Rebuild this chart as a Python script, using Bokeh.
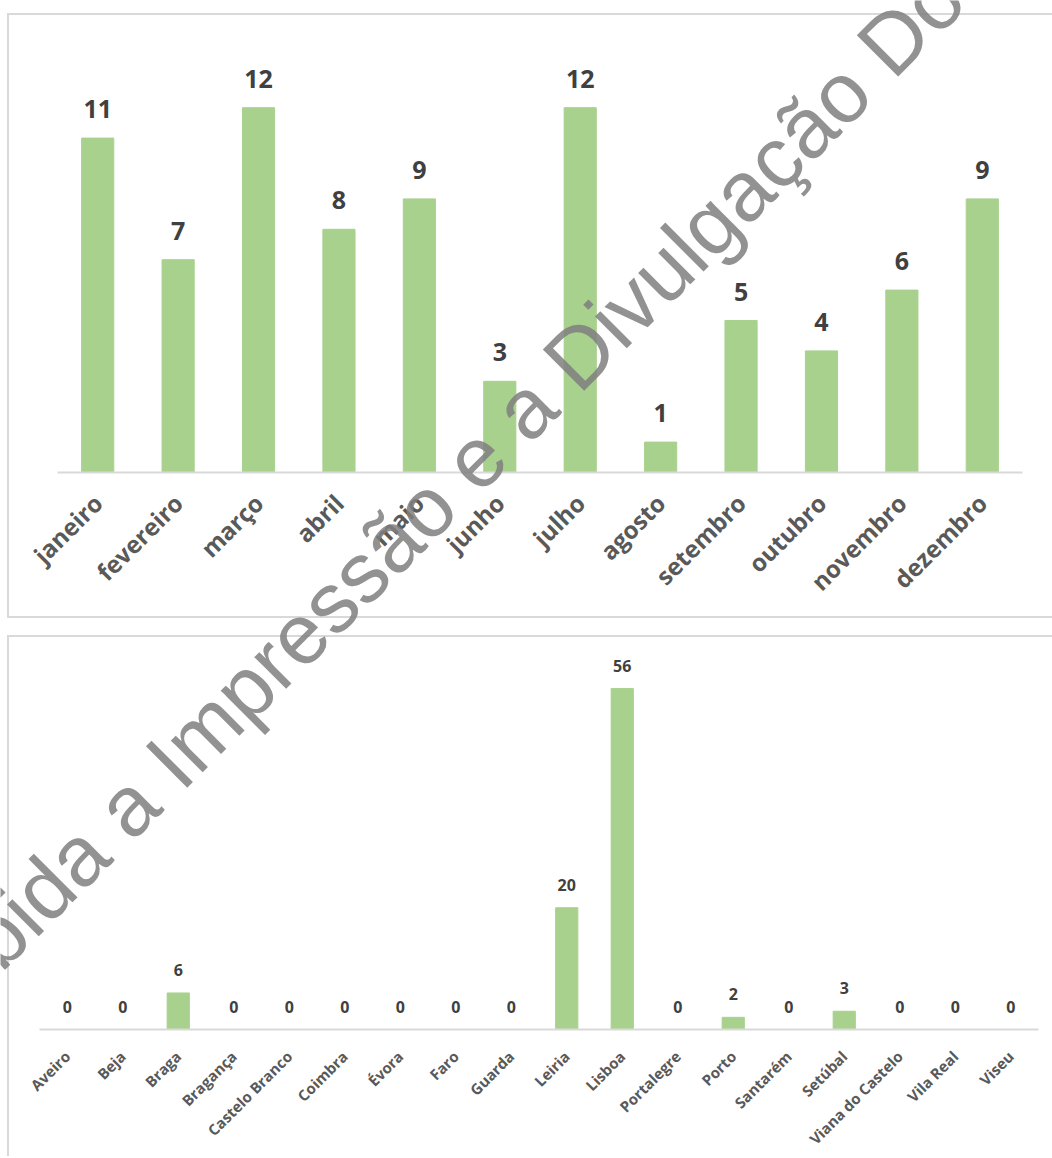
import math
from bokeh.plotting import figure
from bokeh.models import ColumnDataSource, Label, Spacer
from bokeh.layouts import column, row
from bokeh.core.properties import value
from bokeh.embed import file_html
from bokeh.resources import INLINE

# ---- data ----
months = ["janeiro", "fevereiro", "março", "abril", "maio", "junho",
          "julho", "agosto", "setembro", "outubro", "novembro", "dezembro"]
month_counts = [11, 7, 12, 8, 9, 3, 12, 1, 5, 4, 6, 9]

districts = ["Aveiro", "Beja", "Braga", "Bragança", "Castelo Branco", "Coimbra",
             "Évora", "Faro", "Guarda", "Leiria", "Lisboa", "Portalegre",
             "Porto", "Santarém", "Setúbal", "Viana do Castelo", "Vila Real", "Viseu"]
district_counts = [0, 0, 6, 0, 0, 0, 0, 0, 0, 20, 56, 0, 2, 0, 3, 0, 0, 0]

watermark = "Proibida a Impressão e a Divulgação Do"

BAR = "#a9d18e"
LBL = "#404040"
AX = "#595959"
BORDER = "#d9d9d9"
FONT = value("Open Sans")


def style_axis(p, size, standoff):
    ax = p.xaxis[0]
    ax.axis_line_color = BORDER
    ax.axis_line_width = 2
    ax.major_tick_line_color = None
    ax.minor_tick_line_color = None
    ax.major_label_orientation = math.pi / 4
    ax.major_label_text_font = "Open Sans"
    ax.major_label_text_font_style = "bold"
    ax.major_label_text_color = AX
    ax.major_label_text_font_size = size
    ax.major_label_standoff = standoff


# ---- chart 1: months ----
src1 = ColumnDataSource(dict(x=months, v=month_counts, t=[str(v) for v in month_counts]))
p1 = figure(x_range=months, y_range=(0, 14.375), width=1045, height=605,
            min_border_left=48, min_border_right=32, min_border_top=20, min_border_bottom=148,
            y_axis_location=None, toolbar_location=None, output_backend="svg",
            outline_line_color=None)
p1.grid.visible = False
p1.vbar(x="x", top="v", width=0.4, source=src1, color=BAR)
p1.text(x="x", y="v", text="t", source=src1, text_align="center", text_baseline="alphabetic",
        y_offset=-29, text_font=FONT, text_font_style="bold", text_font_size="25px",
        text_color=LBL)
style_axis(p1, "24px", 20)
p1.styles = {"border-top": f"2px solid {BORDER}", "border-left": f"2px solid {BORDER}",
             "border-bottom": f"2px solid {BORDER}"}

# ---- chart 2: districts ----
src2 = ColumnDataSource(dict(x=districts, v=district_counts, t=[str(v) for v in district_counts]))
p2 = figure(x_range=districts, y_range=(0, 61.1), width=1045, height=521,
            min_border_left=30, min_border_right=16, min_border_top=20, min_border_bottom=128,
            y_axis_location=None, toolbar_location=None, output_backend="svg",
            outline_line_color=None)
p2.grid.visible = False
p2.vbar(x="x", top="v", width=0.4, source=src2, color=BAR)
p2.text(x="x", y="v", text="t", source=src2, text_align="center", text_baseline="alphabetic",
        y_offset=-23, text_font=FONT, text_font_style="bold", text_font_size="16px",
        text_color=LBL)
style_axis(p2, "15px", 18)
p2.styles = {"border-top": f"2px solid {BORDER}", "border-left": f"2px solid {BORDER}"}

# each chart keeps its own frame position
for p in (p1, p2):
    try:
        p.frame_align = False
    except Exception:
        pass

# ---- watermark overlay (page-sized, transparent) ----
wm = figure(width=1052, height=1158, x_range=(0, 1052), y_range=(1158, 0),
            min_border=0, x_axis_location=None, y_axis_location=None,
            toolbar_location=None, output_backend="svg", outline_line_color=None,
            background_fill_alpha=0, border_fill_alpha=0)
wm.grid.visible = False
wm.add_layout(Label(x=-127, y=1061, text=watermark, angle=45, angle_units="deg",
                    text_font="Liberation Sans", text_font_size="85px",
                    text_color="#7f7f7f", text_alpha=0.85,
                    text_align="left", text_baseline="alphabetic"))
wm.styles = {"position": "absolute", "top": "0px", "left": "0px", "pointer-events": "none"}

charts = row(Spacer(width=7), column(Spacer(height=13), p1, Spacer(height=17), p2))
layout = column(charts, wm)
open("out.html", "w").write(file_html(layout, INLINE))
